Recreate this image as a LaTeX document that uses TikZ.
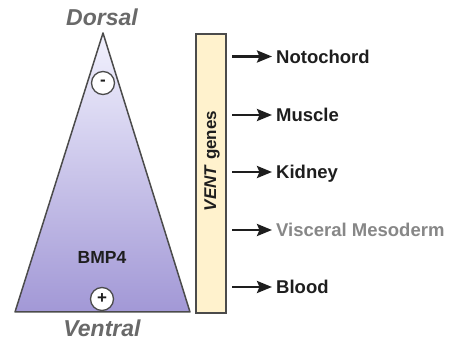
\documentclass[tikz,border=0pt]{standalone}
\usepackage{fontspec}
\setmainfont{Liberation Sans}
\usetikzlibrary{arrows.meta}
\definecolor{txtdark}{RGB}{30,30,30}
\definecolor{txtgrey}{RGB}{105,105,105}
\definecolor{txtlight}{RGB}{135,135,135}
\definecolor{edgegrey}{RGB}{75,75,75}
\definecolor{triTop}{RGB}{242,242,254}
\definecolor{triBot}{RGB}{162,152,214}
\definecolor{ventfill}{RGB}{255,242,205}
\tikzset{
  lbl/.style={anchor=west, font=\fontsize{18.5}{21}\selectfont\bfseries, text=txtdark, inner sep=0pt, text height=13.2pt, text depth=0pt},
  axislbl/.style={font=\fontsize{23}{26}\selectfont\bfseries\itshape, text=txtgrey, inner sep=0pt},
  sign/.style={circle, draw=edgegrey, line width=1.3pt, fill=white, minimum size=23pt, inner sep=0pt, font=\fontsize{17}{17}\selectfont\bfseries, text=txtdark},
  arr/.style={-{Stealth[length=15pt,width=12pt,inset=2.5pt]}, line width=2.6pt, draw=txtdark, shorten >=4pt}
}
\begin{document}
\begin{tikzpicture}[x=1pt,y=-1pt]
\useasboundingbox (0,0) rectangle (461,347);
% triangle
\shade[top color=triTop, bottom color=triBot, draw=edgegrey, line width=1.5pt, line join=round]
  (103,33) -- (190,312) -- (15,312) -- cycle;
\node[sign] (minus) at (103,83) {-};
\node[sign] (plus) at (102,299) {+};
\node[font=\fontsize{17.5}{20}\selectfont\bfseries, text=txtdark, inner sep=0pt] (bmp) at (102,257) {BMP4};
\node[axislbl] (dorsal) at (102,17) {Dorsal};
\node[axislbl] (ventral) at (102,328) {Ventral};
% VENT box
\node[draw=edgegrey, fill=ventfill, line width=1.3pt, minimum width=30pt, minimum height=279pt, inner sep=0pt] (vent) at (211,173.5) {};
\node[rotate=90, font=\fontsize{17}{20}\selectfont\bfseries, text=txtdark, inner sep=0pt] (venttxt) at (212,161) {\textit{VENT} genes};
% targets
\node[lbl] (noto) at (276,56.5) {Notochord};
\node[lbl] (musc) at (276,115) {Muscle};
\node[lbl] (kid) at (276,172) {Kidney};
\node[lbl, text=txtlight] (visc) at (276,230) {Visceral Mesoderm};
\node[lbl] (blood) at (276,287) {Blood};
\coordinate (s1) at (232,56.5);
\coordinate (s2) at (232,115);
\coordinate (s3) at (232,172);
\coordinate (s4) at (232,230);
\coordinate (s5) at (232,287);
\draw[arr] (s1) -- (noto.west);
\draw[arr] (s2) -- (musc.west);
\draw[arr] (s3) -- (kid.west);
\draw[arr] (s4) -- (visc.west);
\draw[arr] (s5) -- (blood.west);
\end{tikzpicture}
\end{document}
